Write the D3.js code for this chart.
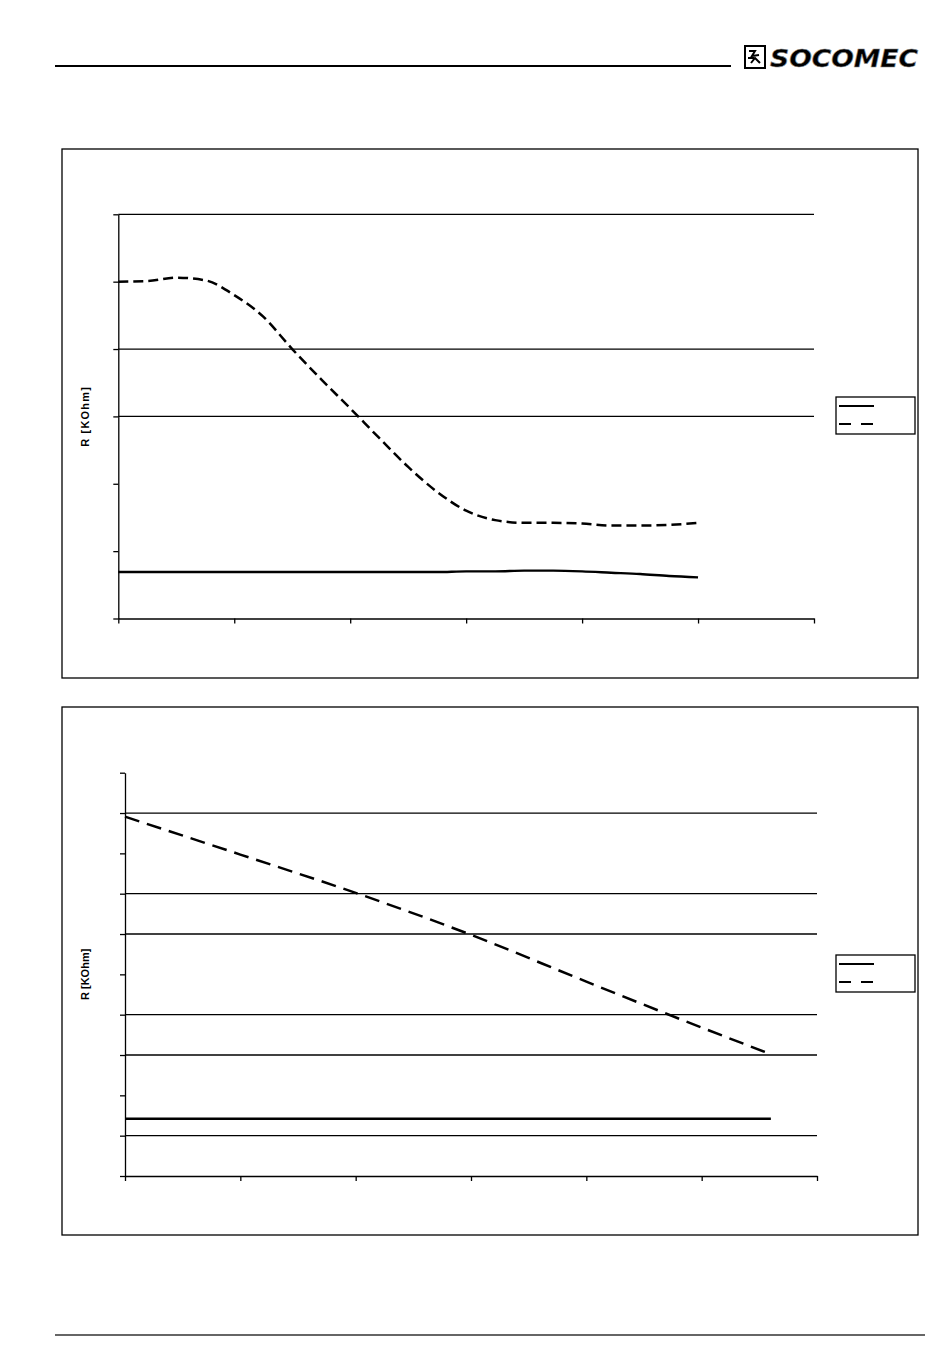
<!DOCTYPE html>
<html lang="en">
<head>
<meta charset="UTF-8">
<title>R [KOhm] curves</title>
<script src="https://d3js.org/d3.v7.min.js"></script>
<style>
    body { margin: 0; background: #fff; }
    svg { display: block; }
    .axis path, .axis line { stroke: #000; stroke-width: 1.3; }
    .ylabel { font-family: "Liberation Sans", Arial, sans-serif; font-size: 11px; font-weight: bold; }
</style>
</head>
<body>
<div id="page"></div>
<script>
// ---- data ----
const chart1X      = [0, 0.25, 0.5, 0.75, 1, 1.25, 1.5, 1.75, 2, 2.25, 2.5, 2.75, 3, 3.25, 3.5, 3.75, 4, 4.25, 4.5, 4.75, 5];
const chart1Dashed = [5.00, 5.01, 5.06, 5.02, 4.80, 4.48, 4.00, 3.55, 3.12, 2.68, 2.25, 1.88, 1.60, 1.46, 1.42, 1.42, 1.41, 1.38, 1.38, 1.39, 1.42];
const chart1Solid  = [0.69, 0.69, 0.69, 0.69, 0.69, 0.69, 0.69, 0.69, 0.69, 0.69, 0.69, 0.69, 0.70, 0.70, 0.71, 0.71, 0.70, 0.68, 0.66, 0.63, 0.61];
const chart1YTicks = [0, 1, 2, 3, 4, 5, 6];
const chart1Grid   = [3, 4, 6];

const chart2X      = [0, 1, 2, 3, 4, 5, 5.6];
const chart2Dashed = [8.91, 7.97, 7.02, 5.98, 4.82, 3.68, 3.02];
const chart2Solid  = [1.42, 1.42, 1.42, 1.42, 1.42, 1.42, 1.42];
const chart2YTicks = [0, 1, 2, 3, 4, 5, 6, 7, 8, 9, 10];
const chart2Grid   = [1, 3, 4, 6, 7, 9];

const xTicks = [0, 1, 2, 3, 4, 5, 6];
const yLabel = "R [KOhm]";

const W = 950, H = 1369;
const svg = d3.select("#page").append("svg").attr("width", W).attr("height", H);

// header rule + logo
svg.append("line").attr("x1", 55).attr("x2", 731).attr("y1", 66).attr("y2", 66)
    .attr("stroke", "#000").attr("stroke-width", 2);
const logo = svg.append("g").attr("transform", "translate(745,46)");
logo.append("rect").attr("x", 0).attr("y", 0).attr("width", 20).attr("height", 22)
    .attr("fill", "#fff").attr("stroke", "#000").attr("stroke-width", 2);
logo.append("path").attr("d", "M4,5 L10,5 L7,10 L14,9 M6,17 L10,12 L15,17 M3,12 L9,12")
    .attr("fill", "none").attr("stroke", "#000").attr("stroke-width", 2);
logo.append("text").attr("x", 25).attr("y", 21)
    .attr("textLength", 148).attr("lengthAdjust", "spacingAndGlyphs")
    .style("font-family", "DejaVu Sans, sans-serif").style("font-size", "25px")
    .style("font-weight", "bold").style("font-style", "italic")
    .attr("fill", "#000").attr("stroke", "#888").attr("stroke-width", 0.6)
    .text("SOCOMEC");

// footer rule
svg.append("line").attr("x1", 55).attr("x2", 925).attr("y1", 1335).attr("y2", 1335)
    .attr("stroke", "#666").attr("stroke-width", 2);

function drawChart(cfg) {
    const g = svg.append("g");

    // outer frame
    g.append("rect").attr("x", cfg.frame[0]).attr("y", cfg.frame[1])
        .attr("width", cfg.frame[2]).attr("height", cfg.frame[3])
        .attr("fill", "none").attr("stroke", "#000").attr("stroke-width", 1.3);

    const x = d3.scaleLinear().domain([0, 6]).range(cfg.xRange);
    const y = d3.scaleLinear().domain(cfg.yDomain).range(cfg.yRange);

    // gridlines
    g.selectAll(".grid").data(cfg.grid).enter().append("line")
        .attr("x1", x(0)).attr("x2", x(6))
        .attr("y1", d => y(d)).attr("y2", d => y(d))
        .attr("stroke", "#000").attr("stroke-width", 1.3);

    // axes, no tick labels
    g.append("g").attr("class", "axis")
        .attr("transform", `translate(0,${y(0)})`)
        .call(d3.axisBottom(x).tickValues(xTicks).tickSize(5).tickSizeOuter(0).tickFormat(""));
    g.append("g").attr("class", "axis")
        .attr("transform", `translate(${x(0)},0)`)
        .call(d3.axisLeft(y).tickValues(cfg.yTicks).tickSize(5).tickSizeOuter(0).tickFormat(""));

    // series
    const line = d3.line().x(d => x(d[0])).y(d => y(d[1])).curve(cfg.curve);
    g.append("path").datum(d3.zip(cfg.xs, cfg.solid))
        .attr("fill", "none").attr("stroke", "#000").attr("stroke-width", 2.4)
        .attr("d", line);
    g.append("path").datum(d3.zip(cfg.xs, cfg.dashed))
        .attr("fill", "none").attr("stroke", "#000").attr("stroke-width", 2.5)
        .attr("stroke-dasharray", cfg.dash)
        .attr("d", line);

    // y axis title
    g.append("text").attr("class", "ylabel")
        .attr("transform", `translate(89,${(cfg.yRange[0] + cfg.yRange[1]) / 2}) rotate(-90)`)
        .attr("text-anchor", "middle")
        .style("letter-spacing", cfg.labelSpacing)
        .text(yLabel);

    // legend (labels empty in the original)
    const lg = g.append("g").attr("transform", `translate(${cfg.legend[0]},${cfg.legend[1]})`);
    lg.append("rect").attr("width", 79).attr("height", 37)
        .attr("fill", "#fff").attr("stroke", "#000").attr("stroke-width", 1.3);
    lg.append("line").attr("x1", 3).attr("x2", 38).attr("y1", 9).attr("y2", 9)
        .attr("stroke", "#000").attr("stroke-width", 2.2);
    lg.append("line").attr("x1", 3).attr("x2", 38).attr("y1", 27).attr("y2", 27)
        .attr("stroke", "#000").attr("stroke-width", 2.2).attr("stroke-dasharray", "12,10");
}

drawChart({
    frame: [62, 149, 856, 529],
    xRange: [118.3, 814], yRange: [618.5, 214.3], yDomain: [0, 6],
    yTicks: chart1YTicks, grid: chart1Grid,
    xs: chart1X, dashed: chart1Dashed, solid: chart1Solid,
    curve: d3.curveMonotoneX, dash: "10,5",
    legend: [836, 397], labelSpacing: "1.2px"
});

drawChart({
    frame: [62, 707, 856, 528],
    xRange: [125, 817], yRange: [1176, 772.7], yDomain: [0, 10],
    yTicks: chart2YTicks, grid: chart2Grid,
    xs: chart2X, dashed: chart2Dashed, solid: chart2Solid,
    curve: d3.curveMonotoneX, dash: "15,8",
    legend: [836, 955], labelSpacing: "0px"
});
</script>
</body>
</html>
